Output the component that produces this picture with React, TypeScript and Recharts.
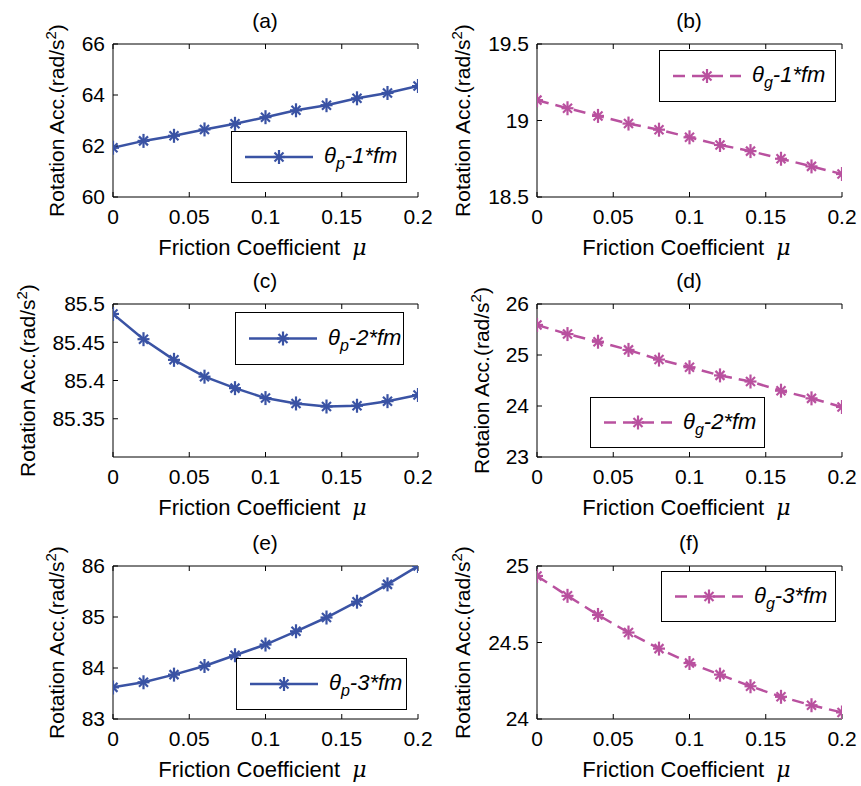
import React from 'react';
import { LineChart, Line, XAxis, YAxis, Legend } from 'recharts';

const mu = [0, 0.02, 0.04, 0.06, 0.08, 0.1, 0.12, 0.14, 0.16, 0.18, 0.2];
const muTicks = [0, 0.05, 0.1, 0.15, 0.2];

const thetaP1 = [61.93, 62.2, 62.4, 62.65, 62.87, 63.13, 63.4, 63.6, 63.87, 64.08, 64.35];
const thetaG1 = [19.133, 19.08, 19.03, 18.98, 18.94, 18.89, 18.84, 18.8, 18.75, 18.7, 18.65];
const thetaP2 = [85.487, 85.454, 85.427, 85.405, 85.39, 85.377, 85.37, 85.366, 85.367, 85.373, 85.381];
const thetaG2 = [25.59, 25.41, 25.26, 25.1, 24.91, 24.76, 24.6, 24.48, 24.3, 24.15, 23.98];
const thetaP3 = [83.62, 83.72, 83.87, 84.04, 84.25, 84.46, 84.72, 84.99, 85.3, 85.64, 86.0];
const thetaG3 = [24.935, 24.805, 24.68, 24.565, 24.46, 24.366, 24.29, 24.214, 24.145, 24.09, 24.043];

const BLUE = '#3a53a4';
const PINK = '#b9519f';
const FONT = '"Liberation Sans", Arial, Helvetica, sans-serif';

const panels = [
  { title: '(a)', values: thetaP1, domain: [60, 66], ticks: [60, 62, 64, 66], yName: 'Rotation', sub: 'p', name: '-1*fm', color: BLUE, dashed: false, x: 0, y: 0, gap: 56, lg: [231, 131, 176, 52] },
  { title: '(b)', values: thetaG1, domain: [18.5, 19.5], ticks: [18.5, 19, 19.5], yName: 'Rotation', sub: 'g', name: '-1*fm', color: PINK, dashed: true, x: 424, y: 0, gap: 74, lg: [235, 50, 177, 52] },
  { title: '(c)', values: thetaP2, domain: [85.3, 85.5], ticks: [85.35, 85.4, 85.45, 85.5], yName: 'Rotation', sub: 'p', name: '-2*fm', color: BLUE, dashed: false, x: 0, y: 260, gap: 85, lg: [235, 52, 169, 53] },
  { title: '(d)', values: thetaG2, domain: [23, 26], ticks: [23, 24, 25, 26], yName: 'Rotaion', sub: 'g', name: '-2*fm', color: PINK, dashed: true, x: 424, y: 260, gap: 55, lg: [166, 137, 175, 51] },
  { title: '(e)', values: thetaP3, domain: [83, 86], ticks: [83, 84, 85, 86], yName: 'Rotation', sub: 'p', name: '-3*fm', color: BLUE, dashed: false, x: 0, y: 522, gap: 56, lg: [236, 136, 171, 52] },
  { title: '(f)', values: thetaG3, domain: [24, 25], ticks: [24, 24.5, 25], yName: 'Rotation', sub: 'g', name: '-3*fm', color: PINK, dashed: true, x: 424, y: 522, gap: 74, lg: [237, 49, 175, 51] },
];

const Star = ({ cx, cy, color }: { cx: number; cy: number; color: string }) => (
  <g stroke={color} strokeWidth={2.2}>
    <line x1={cx - 6} x2={cx + 6} y1={cy} y2={cy} />
    <line x1={cx} x2={cx} y1={cy - 7} y2={cy + 7} />
    <line x1={cx - 4.5} y1={cy - 4.5} x2={cx + 4.5} y2={cy + 4.5} />
    <line x1={cx - 4.5} y1={cy + 4.5} x2={cx + 4.5} y2={cy - 4.5} />
  </g>
);

const tickStyle = { fill: '#000', fontSize: 21, fontFamily: FONT };

function Panel({ p }: { p: any }) {
  const rows = mu.map((m, i) => ({ mu: m, v: p.values[i] }));
  const [lx, ly, lw, lh] = p.lg;
  const dash = p.dashed ? '12 7' : undefined;

  const legendContent = () => (
    <svg width={lw} height={lh} style={{ display: 'block' }}>
      <rect x={0.5} y={0.5} width={lw - 1} height={lh - 1} fill="#fff" stroke="#000" strokeWidth={1} />
      <line x1={14} x2={82} y1={lh / 2} y2={lh / 2} stroke={p.color} strokeWidth={2.5} strokeDasharray={dash} />
      <Star cx={48} cy={lh / 2} color={p.color} />
      <text x={93} y={lh / 2 + 6} fontSize={22} fontStyle="italic" fontFamily={FONT} fill="#000">
        θ<tspan dy={6} fontSize={16}>{p.sub}</tspan><tspan dy={-6}>{p.name}</tspan>
      </text>
    </svg>
  );

  return (
    <div style={{ position: 'absolute', left: p.x, top: p.y }}>
      <LineChart width={437} height={262} data={rows} margin={{ top: 43, right: 19, bottom: 0, left: 53 }}>
        <XAxis
          xAxisId="b"
          dataKey="mu"
          type="number"
          domain={[0, 0.2]}
          ticks={muTicks}
          interval={0}
          allowDataOverflow
          height={65}
          tickSize={-5}
          tickMargin={17}
          stroke="#000"
          tick={tickStyle}
          label={{
            content: (lp: any) => {
              const vb = lp.viewBox;
              return (
                <text x={vb.x + vb.width / 2 - 3} y={vb.y + 58} textAnchor="middle" fontSize={22} fontFamily={FONT} fill="#000">
                  Friction Coefficient{'\u00a0\u00a0'}
                  <tspan fontStyle="italic" fontFamily='"DejaVu Serif", serif'>μ</tspan>
                </text>
              );
            },
          }}
        />
        <XAxis
          xAxisId="t"
          dataKey="mu"
          type="number"
          orientation="top"
          domain={[0, 0.2]}
          ticks={muTicks}
          interval={0}
          allowDataOverflow
          height={1}
          tickSize={-5}
          tickFormatter={() => ''}
          stroke="#000"
        />
        <YAxis
          yAxisId="l"
          type="number"
          domain={p.domain}
          ticks={p.ticks}
          interval={0}
          allowDataOverflow
          width={60}
          tickSize={-5}
          tickMargin={13}
          stroke="#000"
          tick={tickStyle}
          label={{
            content: (lp: any) => {
              const vb = lp.viewBox;
              const cx = vb.x + vb.width - p.gap;
              const cy = vb.y + vb.height / 2;
              const px = vb.x + vb.width + 152;
              return (
                <g>
                  <text x={px} y={vb.y - 16} textAnchor="middle" fontSize={21} fontFamily={FONT} fill="#000">
                    {p.title}
                  </text>
                  <text x={cx} y={cy} transform={`rotate(-90 ${cx} ${cy})`} textAnchor="middle" dy="0.35em" fontSize={21} fontFamily={FONT} fill="#000">
                    {p.yName} Acc.(rad/s<tspan dy={-8} fontSize={15}>2</tspan><tspan dy={8}>)</tspan>
                  </text>
                </g>
              );
            },
          }}
        />
        <YAxis
          yAxisId="r"
          orientation="right"
          type="number"
          domain={p.domain}
          ticks={p.ticks}
          interval={0}
          allowDataOverflow
          width={0}
          tickSize={-5}
          tickFormatter={() => ''}
          stroke="#000"
        />
        <Legend
          layout="vertical"
          align="center"
          verticalAlign="middle"
          content={legendContent}
          wrapperStyle={{ position: 'absolute', left: lx, top: ly, width: lw, height: lh }}
        />
        <Line
          xAxisId="b"
          yAxisId="l"
          dataKey="v"
          type="linear"
          stroke={p.color}
          strokeWidth={2.5}
          strokeDasharray={dash}
          isAnimationActive={false}
          activeDot={false}
          dot={(dp: any) => <Star key={dp.index} cx={dp.cx} cy={dp.cy} color={p.color} />}
        />
      </LineChart>
    </div>
  );
}

export default function App() {
  return (
    <div style={{ position: 'absolute', left: 0, top: 0, width: 861, height: 786, background: '#fff', fontFamily: FONT }}>
      {panels.map((p) => (
        <Panel key={p.title} p={p} />
      ))}
    </div>
  );
}
